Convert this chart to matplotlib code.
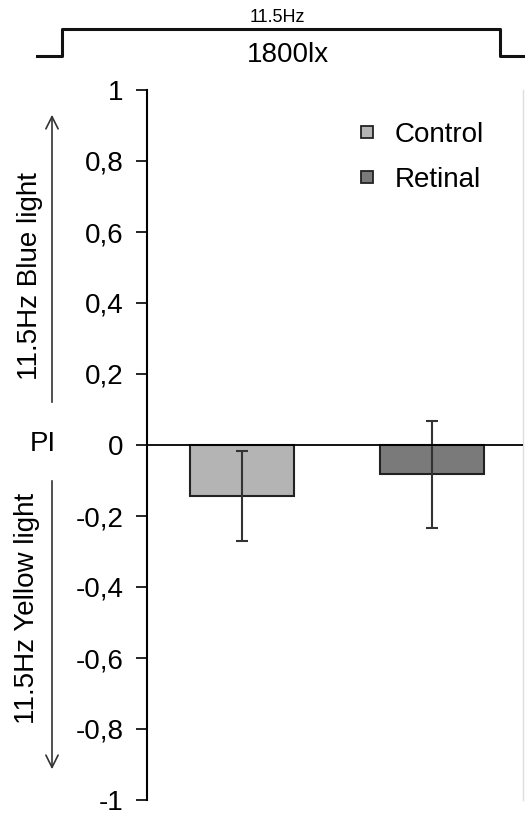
import numpy as np
import matplotlib
matplotlib.use("Agg")
import matplotlib.pyplot as plt
from matplotlib.lines import Line2D

plt.rcParams['font.family'] = ['Liberation Sans', 'DejaVu Sans']

groups = ['Control', 'Retinal']
pi_mean = [-0.144, -0.082]
pi_err = [0.127, 0.151]
bar_colors = ['#b4b4b4', '#7a7a7a']
yticks = [-1, -0.8, -0.6, -0.4, -0.2, 0, 0.2, 0.4, 0.6, 0.8, 1]
ytick_labels = ['-1', '-0,8', '-0,6', '-0,4', '-0,2', '0', '0,2', '0,4', '0,6', '0,8', '1']

W, H = 525, 816
fig = plt.figure(figsize=(W / 100, H / 100), dpi=100)
ax = fig.add_axes([147 / W, 1 - 800 / H, (523 - 147) / W, (800 - 90) / H])

x = np.arange(len(groups))
ax.bar(x, pi_mean, width=0.55, color=bar_colors, edgecolor='#222222', linewidth=1.5, zorder=2)
ax.errorbar(x, pi_mean, yerr=pi_err, fmt='none', ecolor='#333333', elinewidth=1.5,
            capsize=4, capthick=1.5, zorder=3)
ax.axhline(0, color='black', lw=1.3, zorder=4)

ax.set_xlim(-0.5, 1.48)
ax.set_ylim(-1, 1)
ax.set_xticks([])
ax.set_yticks(yticks)
ax.set_yticklabels(ytick_labels, fontsize=20)
ax.tick_params(axis='y', direction='out', length=8, width=1.2, pad=9)
for s in ['top', 'bottom']:
    ax.spines[s].set_visible(False)
ax.spines['left'].set_linewidth(1.5)
ax.spines['right'].set_color('#dddddd')
ax.spines['right'].set_linewidth(1)

handles = [Line2D([], [], marker='s', linestyle='none', markersize=9,
                  markerfacecolor=c, markeredgecolor='#222222', markeredgewidth=1.3)
           for c in bar_colors]
ax.legend(handles, groups, loc='upper left', bbox_to_anchor=(345 / W, 1 - 108 / H),
          bbox_transform=fig.transFigure, frameon=False, fontsize=20,
          handlelength=0.6, handletextpad=0.7, labelspacing=0.68, borderpad=0)

# side labels with arrows
fig.text(30 / W, 1 - 276 / H, '11.5Hz Blue light', rotation=90, fontsize=20,
         ha='center', va='center')
fig.text(27 / W, 1 - 608 / H, '11.5Hz Yellow light', rotation=90, fontsize=20,
         ha='center', va='center')
fig.text(43 / W, 1 - 444 / H, 'PI', fontsize=20, ha='center', va='center')
fig.add_artist(plt.Annotation('', xy=(52 / W, 1 - 112 / H), xytext=(52 / W, 1 - 405 / H),
                              xycoords='figure fraction',
                              arrowprops=dict(arrowstyle='->', lw=1.2, color='#333333',
                                              mutation_scale=22)))
fig.add_artist(plt.Annotation('', xy=(52 / W, 1 - 772 / H), xytext=(52 / W, 1 - 478 / H),
                              xycoords='figure fraction',
                              arrowprops=dict(arrowstyle='->', lw=1.2, color='#333333',
                                              mutation_scale=22)))

# stimulus bracket on top
bx = np.array([37, 62, 62, 500, 500, 525]) / W
by = 1 - np.array([56, 56, 29, 29, 56, 56]) / H
fig.add_artist(Line2D(bx, by, color='#111111', lw=2.2))
fig.text(277 / W, 1 - 17 / H, '11.5Hz', fontsize=13, ha='center', va='center')
fig.text(288 / W, 1 - 55 / H, '1800lx', fontsize=20, ha='center', va='center')

fig.savefig('out.png', dpi=100)
